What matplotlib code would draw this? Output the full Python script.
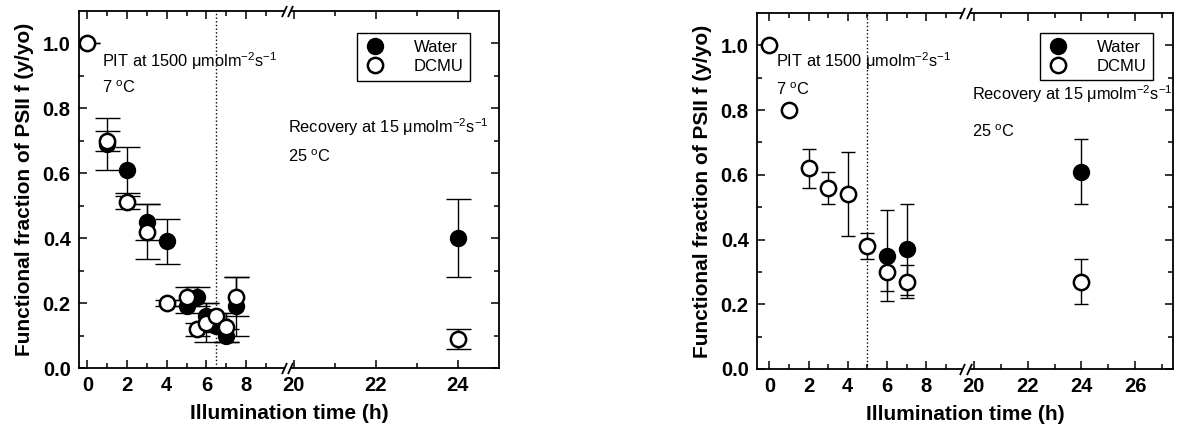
import numpy as np
import matplotlib
matplotlib.use("Agg")
import matplotlib.pyplot as plt
from matplotlib.ticker import FixedLocator, FixedFormatter

plt.rcParams['font.family'] = ['Liberation Sans', 'DejaVu Sans']
plt.rcParams['mathtext.default'] = 'regular'

# ---- left panel data (water vs DCMU, PIT 1500, recovery 15) ----
a_water_t = [1, 2, 3, 4, 5, 5.5, 6, 6.5, 7, 7.5, 24]
a_water_y = [0.69, 0.61, 0.45, 0.39, 0.19, 0.22, 0.16, 0.13, 0.10, 0.19, 0.40]
a_water_e = [0.08, 0.07, 0.055, 0.07, 0.02, 0.03, 0.04, 0.02, 0.02, 0.09, 0.12]
a_dcmu_t = [0, 1, 2, 3, 4, 5, 5.5, 6, 6.5, 7, 7.5, 24]
a_dcmu_y = [1.0, 0.70, 0.51, 0.42, 0.20, 0.22, 0.12, 0.14, 0.16, 0.125, 0.22, 0.09]
a_dcmu_e = [0, 0.03, 0.02, 0.085, 0.01, 0.03, 0.02, 0.06, 0.01, 0.045, 0.06, 0.03]

# ---- right panel data ----
b_water_t = [6, 7, 24]
b_water_y = [0.35, 0.37, 0.61]
b_water_e = [0.14, 0.14, 0.10]
b_dcmu_t = [0, 1, 2, 3, 4, 5, 6, 7, 24]
b_dcmu_y = [1.0, 0.80, 0.62, 0.56, 0.54, 0.38, 0.30, 0.27, 0.27]
b_dcmu_e = [0, 0, 0.06, 0.05, 0.13, 0.04, 0.06, 0.05, 0.07]

a_ticks = [0, 2, 4, 6, 8, 20, 22, 24]
a_minor = [1, 3, 5, 7, 9, 21, 23]
b_ticks = [0, 2, 4, 6, 8, 20, 22, 24, 26]
b_minor = [1, 3, 5, 7, 9, 21, 23, 25, 27]


def broken_scale(brk, start20, slope):
    # piecewise linear x scale: 0..brk as is, then jump to 20+ with a new slope
    xp = np.array([-10.0, brk, 20.0, 60.0])
    up = np.array([-10.0, brk, start20, start20 + 40 * slope])
    fwd = lambda x: np.interp(x, xp, up)
    inv = lambda u: np.interp(u, up, xp)
    return fwd, inv


def panel(ax, fwd, inv, xlim, vline, capsize, brk_u,
          wt, wy, we, dt, dy, de, ticks, minor, txt, leg_anchor):
    ax.set_xscale('function', functions=(fwd, inv))
    ax.set_xlim(*xlim)
    ax.set_ylim(0, 1.1)

    ax.axvline(vline, color='black', ls=':', lw=1.0, zorder=1)

    ax.errorbar(wt, wy, yerr=we, fmt='none', ecolor='black', elinewidth=1.0,
                capsize=capsize, capthick=1.0, zorder=2)
    ax.errorbar(dt, dy, yerr=de, fmt='none', ecolor='black', elinewidth=1.0,
                capsize=capsize, capthick=1.0, zorder=2)
    ax.plot(wt, wy, 'o', ms=11, mfc='black', mec='black', mew=1.5,
            ls='none', label='Water', zorder=3)
    ax.plot(dt, dy, 'o', ms=11, mfc='white', mec='black', mew=1.8,
            ls='none', label='DCMU', zorder=4)

    ax.xaxis.set_major_locator(FixedLocator(ticks))
    ax.xaxis.set_major_formatter(FixedFormatter([str(t) for t in ticks]))
    ax.xaxis.set_minor_locator(FixedLocator(minor))
    ax.set_yticks([0, 0.2, 0.4, 0.6, 0.8, 1.0])
    ax.set_yticklabels(['0.0', '0.2', '0.4', '0.6', '0.8', '1.0'])
    ax.set_yticks(np.arange(0.1, 1.1, 0.2), minor=True)
    ax.tick_params(which='both', direction='in', top=True, right=True,
                   width=1.1, labelsize=14.5, pad=6)
    ax.tick_params(which='major', length=6)
    ax.tick_params(which='minor', length=3.5)
    for lab in ax.get_xticklabels() + ax.get_yticklabels():
        lab.set_fontweight('bold')
    for sp in ax.spines.values():
        sp.set_linewidth(1.3)

    ax.set_xlabel('Illumination time (h)', fontsize=15, fontweight='bold',
                  labelpad=6)
    ax.set_ylabel('Functional fraction of PSII f (y/yo)', fontsize=15,
                  fontweight='bold', labelpad=6)

    # axis break marks "//" on top and bottom spines
    bx = inv(np.array(brk_u))
    tr = ax.get_xaxis_transform()
    for yy in (0, 1):
        ax.plot(bx, [yy, yy], color='white', lw=3, transform=tr,
                clip_on=False, zorder=5, solid_capstyle='butt')
        ax.plot(bx, [yy, yy], ls='none', marker=[(-0.45, -1), (0.45, 1)],
                ms=8, mec='black', mew=1.3, transform=tr, clip_on=False,
                zorder=6)

    for (x, y, s) in txt:
        ax.text(x, y, s, transform=ax.transAxes, fontsize=11.8,
                va='baseline', ha='left')

    leg = ax.legend(loc='upper right', bbox_to_anchor=leg_anchor,
                    borderaxespad=0, frameon=True, fancybox=False,
                    edgecolor='black', framealpha=1, fontsize=12,
                    handletextpad=1.6, borderpad=0.4, labelspacing=0.25,
                    handlelength=1.4)
    leg.get_frame().set_linewidth(1.0)


fig = plt.figure(figsize=(11.77, 4.34), dpi=100)
ax1 = fig.add_axes([79 / 1177, 1 - 368 / 434, 420 / 1177, 357 / 434])
ax2 = fig.add_axes([757 / 1177, 1 - 369 / 434, 416 / 1177, 356 / 434])

pit = 'PIT at 1500 μmolm$^{-2}$s$^{-1}$'
rec = 'Recovery at 15 μmolm$^{-2}$s$^{-1}$'

f1, i1 = broken_scale(10.2, 10.39, 2.07)
panel(ax1, f1, i1, (-0.42, 25.0), 6.5, 9, [9.93, 10.23],
      a_water_t, a_water_y, a_water_e, a_dcmu_t, a_dcmu_y, a_dcmu_e,
      a_ticks, a_minor,
      [(0.054, 0.844, pit), (0.054, 0.77, '7 $^{o}$C'),
       (0.498, 0.658, rec), (0.498, 0.578, '25 $^{o}$C')],
      (0.931, 0.938))

f2, i2 = broken_scale(10.1, 10.42, 1.373)
panel(ax2, f2, i2, (-0.63, 27.4), 5, 5, [9.83, 10.19],
      b_water_t, b_water_y, b_water_e, b_dcmu_t, b_dcmu_y, b_dcmu_e,
      b_ticks, b_minor,
      [(0.046, 0.849, pit), (0.046, 0.77, '7 $^{o}$C'),
       (0.518, 0.756, rec), (0.518, 0.652, '25 $^{o}$C')],
      (0.952, 0.944))

fig.savefig('out.png', dpi=100)
